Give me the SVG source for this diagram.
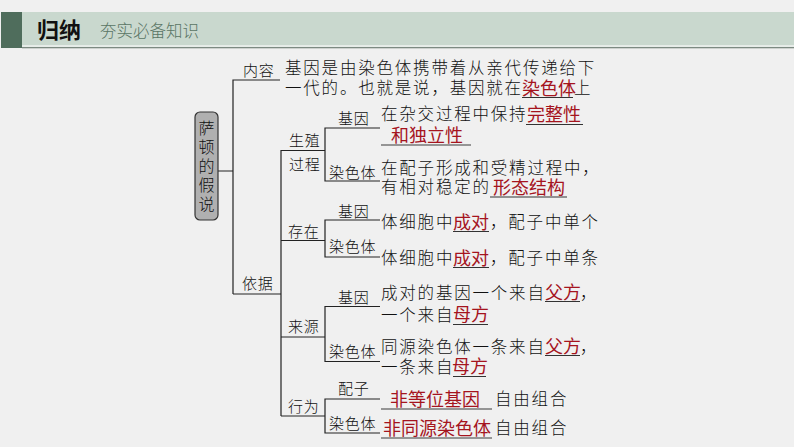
<svg xmlns="http://www.w3.org/2000/svg" width="794" height="447" viewBox="0 0 794 447">
<style>
text{font-family:"Noto Sans CJK SC","Noto Sans",sans-serif;white-space:pre}
.t{font-size:16.500px;letter-spacing:1.800px;fill:#111;font-weight:300}
.l{font-size:15px;letter-spacing:0.800px;fill:#111;font-weight:300}
.r{font-size:18px;fill:#a5141e;letter-spacing:0;font-weight:400}
.c path{fill:none;stroke:#222;stroke-width:1.200}
.u{stroke:#333;stroke-width:1;fill:none}
.g{stroke:#777;stroke-width:1.500;fill:none}
</style>
<rect width="794" height="447" fill="#f0f0f0"/>
<g id="header">
<rect x="22" y="12" width="772" height="33" fill="#c9d8ce"/>
<rect x="22" y="45" width="772" height="2" fill="#e6ece8"/>
<rect x="1" y="12" width="21" height="36" fill="#4f6d5c"/>
<rect x="22" y="47" width="772" height="1.300" fill="#7d8a82"/>
<text x="37" y="37.500" fill="#111" style="font-size:22px;font-weight:700">归纳</text>
<text x="100" y="37" fill="#5a7565" style="font-size:16.500px;font-weight:300">夯实必备知识</text>
</g>
<g id="connectors" class="c">
<path d="M218 171H233M233 294V80H280"/>
<path d="M233 294H281M281 416V150.500H325M281 240.500H325M281 337H325M281 416H325"/>
<path d="M380 128H325V181H380M380 220H325V257H380M380 306.500H325V361.500H380M380 399H325V433H380"/>
</g>
<g id="node-root">
<rect x="195" y="112" width="23" height="108" rx="5" fill="#b0b0b0" stroke="#333" stroke-width="1.200"/>
<text x="206.500" y="120" fill="#111" style="font-size:16px;font-weight:300;writing-mode:vertical-rl;letter-spacing:3px">萨顿的假说</text>
</g>
<g id="node-content">
<text class="l" x="243" y="75.500">内容</text>
<text class="t"><tspan x="285" y="74">基因是由染色体携带着从亲代传递给下</tspan><tspan x="285" y="94">一代的。也就是说，基因就在</tspan><tspan class="r" x="522" y="94.500">染色体</tspan><tspan x="574" y="94">上</tspan></text>
<line class="u" x1="522" y1="97.500" x2="573" y2="97.500"/>
</g>
<g id="node-basis">
<text class="l" x="242" y="289">依据</text>
</g>
<g id="node-reproduction">
<text class="l" x="289" y="146">生殖</text>
<text class="l" x="289" y="170">过程</text>
<text class="l" x="338" y="124">基因</text>
<text class="l" x="329" y="178">染色体</text>
<text class="t"><tspan x="381" y="120">在杂交过程中保持</tspan><tspan class="r" x="527" y="120.500">完整性</tspan><tspan class="r" x="391" y="141.500">和独立性</tspan></text>
<line class="u" x1="526" y1="124.500" x2="583" y2="124.500"/>
<line class="g" x1="381" y1="145" x2="471" y2="145"/>
<text class="t"><tspan x="381" y="174">在配子形成和受精过程中，</tspan><tspan x="381" y="193">有相对稳定的</tspan><tspan class="r" x="493" y="193.500">形态结构</tspan></text>
<line class="u" x1="490" y1="197" x2="567" y2="197"/>
</g>
<g id="node-existence">
<text class="l" x="288" y="237">存在</text>
<text class="l" x="338" y="217">基因</text>
<text class="l" x="329" y="252">染色体</text>
<text class="t"><tspan x="381" y="228">体细胞中</tspan><tspan class="r" x="453" y="228.500">成对</tspan><tspan x="490" y="228">，配子中单个</tspan></text>
<line class="u" x1="453" y1="231.500" x2="489" y2="231.500"/>
<text class="t"><tspan x="381" y="264">体细胞中</tspan><tspan class="r" x="453" y="264.500">成对</tspan><tspan x="490" y="264">，配子中单条</tspan></text>
<line class="u" x1="453" y1="267.500" x2="489" y2="267.500"/>
</g>
<g id="node-origin">
<text class="l" x="288" y="332">来源</text>
<text class="l" x="338" y="303">基因</text>
<text class="l" x="329" y="357">染色体</text>
<text class="t"><tspan x="381" y="299">成对的基因一个来自</tspan><tspan class="r" x="545" y="298.500">父方</tspan><tspan x="580" y="299">，</tspan><tspan x="381" y="321">一个来自</tspan><tspan class="r" x="453" y="321">母方</tspan></text>
<line class="u" x1="545" y1="301.500" x2="580" y2="301.500"/>
<line class="u" x1="453" y1="324.500" x2="488" y2="324.500"/>
<text class="t"><tspan x="381" y="353">同源染色体一条来自</tspan><tspan class="r" x="545" y="352.500">父方</tspan><tspan x="580" y="353">，</tspan><tspan x="381" y="373">一条来自</tspan><tspan class="r" x="452" y="373">母方</tspan></text>
<line class="u" x1="545" y1="355.500" x2="580" y2="355.500"/>
<line class="u" x1="453" y1="376.500" x2="486" y2="376.500"/>
</g>
<g id="node-behavior">
<text class="l" x="288" y="412">行为</text>
<text class="l" x="338" y="394">配子</text>
<text class="l" x="329" y="429">染色体</text>
<text class="t"><tspan class="r" x="390" y="405.500">非等位基因</tspan><tspan x="495" y="405">自由组合</tspan></text>
<line class="g" x1="381" y1="409" x2="492" y2="409"/>
<text class="t"><tspan class="r" x="383" y="434.500">非同源染色体</tspan><tspan x="495" y="434">自由组合</tspan></text>
<line class="g" x1="381" y1="438" x2="492" y2="438"/>
</g>
</svg>
